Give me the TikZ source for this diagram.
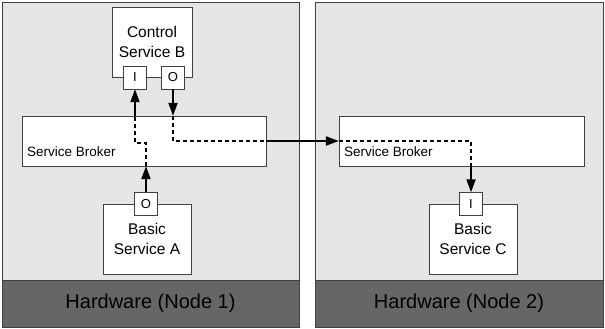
\documentclass[tikz,border=0pt]{standalone}
\usepackage{fontspec}
\setmainfont{Liberation Sans}
\usetikzlibrary{arrows.meta,positioning}
\definecolor{panelgray}{HTML}{E5E5E5}
\definecolor{hwgray}{HTML}{666666}
\definecolor{edge}{HTML}{404040}
\tikzset{
  panel/.style={draw=edge, fill=panelgray, minimum width=297pt, minimum height=325pt, inner sep=0pt},
  hw/.style={draw=edge, fill=hwgray, minimum width=297pt, minimum height=47pt, inner sep=0pt, font=\fontsize{20}{24}\selectfont, text=black},
  svc/.style={draw=edge, fill=white, minimum width=88pt, minimum height=70pt, align=center, font=\fontsize{15.5}{19.5}\selectfont},
  broker/.style={draw=edge, fill=white, minimum width=244pt, minimum height=50pt},
  port/.style={draw=edge, fill=white, minimum size=23pt, inner sep=0pt, font=\fontsize{13}{15}\selectfont},
  lbl/.style={font=\fontsize{13.5}{16}\selectfont, anchor=west, inner sep=0pt},
  arr/.style={-{Triangle[length=13pt, width=9pt]}, line width=2pt},
  msg/.style={dash pattern=on 4pt off 3pt, line width=2pt}
}

\begin{document}
\begin{tikzpicture}[x=1pt, y=-1pt]
  \useasboundingbox (0,0) rectangle (605,329);
  % the two machines
  \node[panel] (node1) at (150.5,164.5) {};
  \node[panel, minimum width=288pt] (node2) at (459,164.5) {};
  \node[hw, anchor=south] (hw1) at (node1.south) {Hardware (Node 1)};
  \node[hw, anchor=south, minimum width=288pt] (hw2) at (node2.south) {Hardware (Node 2)};
  % services and brokers
  \node[svc, minimum width=80pt] (ctrlB) at (152,42) {Control\\Service B};
  \node[port] (bI) at (135,77.5) {I};
  \node[port] (bO) at (173,77.5) {O};
  \node[broker] (brokerA) at (144,141) {};
  \node[lbl] (lblA) at (27,152) {Service Broker};
  \node[broker, minimum width=245pt] (brokerB) at (461.5,141) {};
  \node[lbl] (lblB) at (344,152) {Service Broker};
  \node[svc] (svcA) at (147,239) {Basic\\Service A};
  \node[port] (aO) at (146,204) {O};
  \node[svc] (svcC) at (473,239) {Basic\\Service C};
  \node[port] (cI) at (471,204) {I};
  % message paths
  \draw[arr] (aO.north) -- (aO.north |- brokerA.south);
  \draw[msg] (aO.north |- brokerA.south) -- ++(0,-23) -| (bI |- brokerA.north);
  \draw[arr] (bI |- brokerA.north) -- (bI.south);
  \draw[arr] (bO.south) -- (bO |- brokerA.north);
  \draw[msg] (bO |- brokerA.north) |- (brokerA.east);
  \draw[arr] (brokerA.east) -- (brokerB.west);
  \draw[msg] (brokerB.west) -| (cI |- brokerB.south);
  \draw[arr] (cI |- brokerB.south) -- (cI.north);
\end{tikzpicture}
\end{document}
